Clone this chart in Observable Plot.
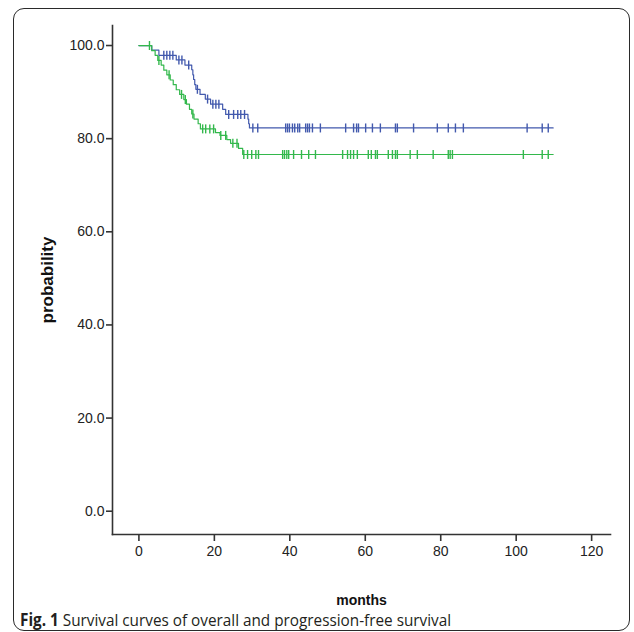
<!DOCTYPE html>
<html><head><meta charset="utf-8">
<script src="https://cdn.jsdelivr.net/npm/d3@7"></script>
<script src="https://cdn.jsdelivr.net/npm/@observablehq/plot@0.6"></script>
<style>
html,body{margin:0;padding:0;background:#fff;width:634px;height:632px;overflow:hidden;}
#chart{position:absolute;left:0;top:0;}
#frame{position:absolute;left:13px;top:8px;width:617px;height:623px;border:1.5px solid #2a2a2a;border-radius:11px;box-sizing:border-box;}
#caption{position:absolute;left:20px;top:611px;font-family:"Open Sans",sans-serif;font-size:17px;color:#231f20;white-space:nowrap;transform-origin:left top;transform:scaleX(0.9);line-height:17px;}
</style></head><body>
<div id="chart"></div>
<div id="frame"></div>
<div id="caption"><b>Fig. 1</b> Survival curves of overall and progression-free survival</div>
<script>
// tick labels
const monthTicks = [0, 20, 40, 60, 80, 100, 120];
const probTicks = [0, 20, 40, 60, 80, 100];

// Overall survival (blue): step times (months) and survival (%) after each step
const osTimes = [0, 3.4, 5.3, 9.9, 12.2, 14.0, 14.3, 14.5, 14.8, 15.1, 16.2, 17.6, 19.0, 22.2, 23.0, 28.9, 29.1, 29.3];
const osSurv  = [100, 99.0, 97.9, 96.9, 95.8, 94.8, 93.7, 92.7, 91.6, 90.6, 89.5, 88.5, 87.4, 86.3, 85.2, 84.2, 83.2, 82.3];
const osEnd = 109.8;
const osCensor = [6.6, 7.4, 8.2, 9.0, 10.6, 11.4, 13.2, 15.5, 18.2, 19.6, 20.4, 21.2, 23.8, 25.1, 26.2, 27.0, 28.0,
  30.2, 31.5, 38.9, 39.4, 39.9, 40.7, 41.3, 42.1, 42.6, 44.2, 44.7, 45.2, 46.0, 48.1, 54.8, 56.9, 57.7, 58.2,
  60.1, 61.9, 64.0, 68.0, 68.5, 72.8, 79.1, 82.0, 83.9, 86.0, 102.9, 106.9, 108.5];

// Progression-free survival (green)
const pfsTimes = [0, 3.4, 4.3, 5.0, 5.9, 6.6, 7.4, 8.3, 9.1, 9.9, 10.8, 11.9, 12.6, 13.4, 14.0, 14.6, 15.7, 16.3, 20.3, 21.5, 23.3, 24.3, 26.4, 27.5];
const pfsSurv  = [100, 98.9, 97.9, 96.8, 95.8, 94.7, 93.7, 92.6, 91.6, 90.5, 89.5, 88.4, 87.4, 86.3, 85.3, 84.2, 83.2, 82.1, 81.3, 80.7, 79.8, 79.0, 77.9, 76.6];
const pfsEnd = 109.8;
const pfsCensor = [2.8, 5.3, 8.0, 11.3, 12.3, 14.3, 16.9, 17.7, 18.8, 19.8, 21.7, 23.0, 24.9, 26.0,
  27.8, 28.8, 29.9, 31.0, 31.7, 38.1, 38.6, 39.2, 39.7, 41.0, 43.1, 45.0, 46.8, 54.0, 55.3, 56.1, 56.9, 57.9,
  60.8, 61.6, 62.7, 63.2, 66.1, 67.2, 68.0, 68.5, 71.9, 73.8, 78.0, 82.0, 82.5, 83.1, 101.9, 106.9, 108.5];

const BLUE = "#4259ad", GREEN = "#33b84c", AXIS = "#333";

function steps(times, surv, end) {
  const pts = times.map((t, i) => ({t, s: surv[i]}));
  pts.push({t: end, s: surv[surv.length - 1]});
  return pts;
}
function censors(cts, times, surv) {
  return cts.map(t => {
    let s = surv[0];
    for (let i = 0; i < times.length; i++) if (times[i] <= t) s = surv[i];
    return {t, s};
  });
}
const vtick = {draw(ctx, size) { const h = Math.sqrt(size / Math.PI); ctx.moveTo(0, -h); ctx.lineTo(0, h); }};

const chart = Plot.plot({
  width: 634,
  height: 608,
  marginLeft: 112,
  marginTop: 25,
  marginRight: 24,
  marginBottom: 74,
  style: {fontFamily: "Liberation Sans, Arial, sans-serif", color: "#222", background: "none", overflow: "visible"},
  x: {domain: [-7, 125]},
  y: {domain: [-5, 104.3]},
  marks: [
    Plot.frame({anchor: "left", stroke: AXIS, strokeWidth: 1.6}),
    Plot.frame({anchor: "bottom", stroke: AXIS, strokeWidth: 1.6}),
    Plot.axisY({ticks: probTicks, tickFormat: d3.format(".1f"), tickSize: 6, tickPadding: 2, fontSize: 14, stroke: AXIS, strokeWidth: 1.6, label: null}),
    Plot.axisY({ticks: [], tickSize: 0, label: "probability", labelArrow: "none", labelAnchor: "center", labelOffset: 72, fontSize: 17, fontWeight: "bold", fill: "#111"}),
    Plot.axisX({ticks: monthTicks, tickFormat: d3.format("d"), tickSize: 7, tickPadding: 5, fontSize: 14, stroke: AXIS, strokeWidth: 1.6, label: null}),
    Plot.axisX({ticks: [], tickSize: 0, label: "months", labelArrow: "none", labelAnchor: "center", labelOffset: 70, fontSize: 14, fontWeight: "bold", fill: "#111"}),
    Plot.line(steps(osTimes, osSurv, osEnd), {x: "t", y: "s", curve: "step-after", stroke: BLUE, strokeWidth: 1.2}),
    Plot.dot(censors(osCensor, osTimes, osSurv), {x: "t", y: "s", symbol: vtick, r: 4.5, fill: "none", stroke: BLUE, strokeWidth: 1.4}),
    Plot.line(steps(pfsTimes, pfsSurv, pfsEnd), {x: "t", y: "s", curve: "step-after", stroke: GREEN, strokeWidth: 1.2}),
    Plot.dot(censors(pfsCensor, pfsTimes, pfsSurv), {x: "t", y: "s", symbol: vtick, r: 4.5, fill: "none", stroke: GREEN, strokeWidth: 1.4})
  ]
});
document.getElementById("chart").appendChild(chart);
</script></body></html>
